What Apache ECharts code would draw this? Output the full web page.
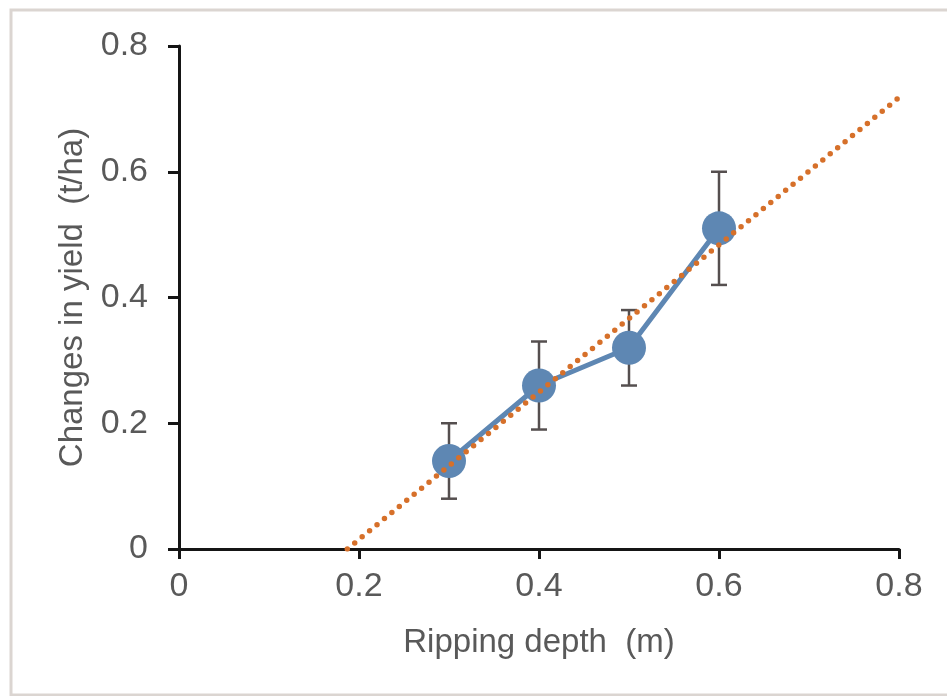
<!DOCTYPE html>
<html>
<head>
<meta charset="utf-8">
<title>Changes in yield vs ripping depth</title>
<script src="https://cdn.jsdelivr.net/npm/echarts@6/dist/echarts.min.js"></script>
<style>
  html, body { margin: 0; padding: 0; background: #ffffff; }
  #chart { width: 947px; height: 696px; }
</style>
</head>
<body>
<div id="chart"></div>
<script>
// Ripping depth (m) and mean yield change (t/ha)
const depths = [0.3, 0.4, 0.5, 0.6];
const yieldChange = [0.14, 0.26, 0.32, 0.51];
// Half-length of each error bar (t/ha)
const yieldError = [0.06, 0.07, 0.06, 0.09];
// Linear trendline end points [depth, yield]
const trendStart = [0.187, 0];
const trendEnd = [0.8, 0.718];
// Axis ranges and tick step
const xTicks = [0, 0.2, 0.4, 0.6, 0.8];
const yTicks = [0, 0.2, 0.4, 0.6, 0.8];

const textColor = '#595959';
const axisColor = '#151515';
const blue = '#5e87b3';
const orange = '#d6702a';
const font = '"Liberation Sans", Arial, sans-serif';

const points = depths.map((d, i) => [d, yieldChange[i]]);
const errorData = depths.map((d, i) => [d, yieldChange[i] - yieldError[i], yieldChange[i] + yieldError[i]]);

const chart = echarts.init(document.getElementById('chart'), null, { renderer: 'canvas' });

chart.setOption({
  backgroundColor: '#ffffff',
  animation: false,
  graphic: [{
    type: 'rect',
    z: -10,
    silent: true,
    shape: { x: 11, y: 10, width: 980, height: 685 },
    style: { fill: 'none', stroke: '#dbd5d1', lineWidth: 3 }
  }],
  grid: { left: 179, right: 48, top: 46, bottom: 147, containLabel: false },
  xAxis: {
    type: 'value',
    min: xTicks[0],
    max: xTicks[xTicks.length - 1],
    interval: xTicks[1] - xTicks[0],
    name: 'Ripping depth  (m)',
    nameLocation: 'middle',
    nameGap: 77,
    nameTextStyle: { color: textColor, fontSize: 33, fontFamily: font },
    axisLine: { onZero: false, lineStyle: { color: axisColor, width: 3 } },
    axisTick: { show: true, length: 10, lineStyle: { color: axisColor, width: 3 } },
    axisLabel: { color: textColor, fontSize: 34, fontFamily: font, margin: 21 },
    splitLine: { show: false }
  },
  yAxis: {
    type: 'value',
    min: yTicks[0],
    max: yTicks[yTicks.length - 1],
    interval: yTicks[1] - yTicks[0],
    name: 'Changes in yield  (t/ha)',
    nameLocation: 'middle',
    nameGap: 90,
    nameTextStyle: { color: textColor, fontSize: 33, fontFamily: font },
    axisLine: { onZero: false, lineStyle: { color: axisColor, width: 3 } },
    axisTick: { show: true, length: 11, lineStyle: { color: axisColor, width: 3 } },
    axisLabel: { color: textColor, fontSize: 34, fontFamily: font, margin: 31 },
    splitLine: { show: false }
  },
  series: [
    {
      type: 'custom',
      name: 'error',
      z: 1,
      data: errorData,
      renderItem: function (params, api) {
        const x = api.value(0);
        const low = api.coord([x, api.value(1)]);
        const high = api.coord([x, api.value(2)]);
        const half = 8;
        const style = { stroke: '#554f4f', lineWidth: 2.5, fill: 'none' };
        return {
          type: 'group',
          children: [
            { type: 'line', shape: { x1: low[0], y1: low[1], x2: high[0], y2: high[1] }, style: style },
            { type: 'line', shape: { x1: low[0] - half, y1: low[1], x2: low[0] + half, y2: low[1] }, style: style },
            { type: 'line', shape: { x1: high[0] - half, y1: high[1], x2: high[0] + half, y2: high[1] }, style: style }
          ]
        };
      }
    },
    {
      type: 'line',
      name: 'yield',
      z: 2,
      data: points,
      symbol: 'circle',
      symbolSize: 34,
      lineStyle: { color: blue, width: 5 },
      itemStyle: { color: blue, borderWidth: 0 }
    },
    {
      type: 'line',
      name: 'trend',
      z: 3,
      data: [trendStart, trendEnd],
      symbol: 'none',
      lineStyle: { color: orange, width: 5.5, type: [0, 9.6], cap: 'round' }
    }
  ]
});
</script>
</body>
</html>
